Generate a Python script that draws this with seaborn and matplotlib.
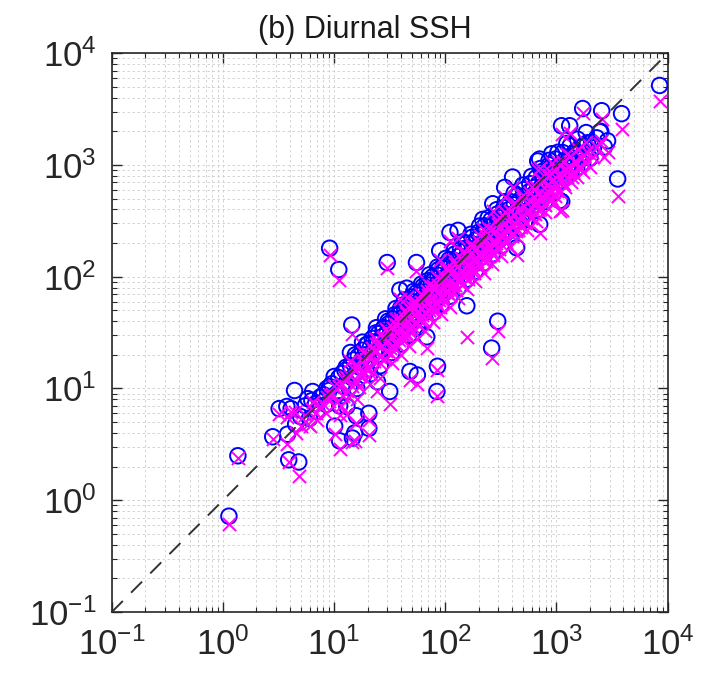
import matplotlib
matplotlib.use("Agg")
import matplotlib.pyplot as plt
import seaborn as sns
import pandas as pd
import numpy as np

# main band: observed value, circle estimate, cross estimate
band_x = [8.0, 8.5, 9.5, 10.5, 11.0, 12.0, 12.5, 13.0, 14.0, 14.5, 15.0, 16.0, 16.5, 17.0, 18.0,
          18.5, 19.0, 20.0, 20.5, 21.0, 22.0, 23.0, 24.0, 25.0, 26.0, 27.0, 28.0, 29.0, 30.0, 31.0,
          32.0, 33.0, 34.0, 35.0, 36.0, 37.0, 38.0, 39.0, 40.0, 41.0, 42.0, 43.0, 44.0, 45.0, 46.0,
          47.0, 48.0, 49.0, 50.0, 52.0, 53.0, 54.0, 56.0, 57.0, 58.0, 60.0, 61.0, 62.0, 64.0, 65.0,
          66.0, 68.0, 70.0, 71.0, 73.0, 75.0, 76.0, 78.0, 80.0, 82.0, 84.0, 86.0, 88.0, 90.0, 93.0,
          95.0, 97.0, 100.0, 103.0, 106.0, 110.0, 113.0, 116.0, 120.0, 123.0, 127.0, 131.0, 135.0,
          139.0, 143.0, 147.0, 152.0, 157.0, 162.0, 167.0, 172.0, 178.0, 184.0, 190.0, 196.0, 202.0,
          209.0, 216.0, 223.0, 230.0, 238.0, 246.0, 254.0, 262.0, 271.0, 280.0, 290.0, 300.0, 310.0,
          320.0, 331.0, 342.0, 354.0, 366.0, 378.0, 391.0, 404.0, 418.0, 432.0, 447.0, 462.0, 478.0,
          494.0, 511.0, 528.0, 546.0, 565.0, 584.0, 604.0, 625.0, 646.0, 668.0, 691.0, 715.0, 740.0,
          765.0, 791.0, 818.0, 846.0, 875.0, 905.0, 936.0, 968.0, 1000.0, 1040.0, 1080.0, 1120.0,
          1160.0, 1200.0, 1250.0, 1300.0, 1350.0, 1400.0, 1460.0, 1520.0, 1580.0, 1650.0, 1720.0,
          1800.0, 1900.0, 2000.0, 2150.0, 2300.0,
          9.0, 10.0, 11.5, 12.8, 13.6, 15.5, 16.8, 17.6, 19.4, 21.5, 22.6, 23.8, 25.6, 27.5, 28.6,
          30.5, 32.5, 34.5, 35.5, 37.5, 39.5, 40.5, 42.5, 44.5, 46.5, 48.5, 50.5, 51.5, 55.0, 57.5,
          59.0, 63.0, 64.5, 67.0, 69.0, 72.0, 74.0, 77.0, 79.0, 83.0, 87.0, 89.0, 92.0, 96.0, 99.0,
          104.0, 108.0, 111.0, 118.0, 122.0, 126.0, 133.0, 137.0, 141.0, 149.0, 155.0, 160.0, 169.0,
          175.0, 181.0, 193.0, 199.0, 206.0, 219.0, 226.0, 234.0, 250.0, 258.0, 266.0, 285.0, 295.0,
          305.0, 325.0, 336.0, 348.0, 372.0, 385.0, 398.0, 425.0, 440.0, 455.0, 486.0, 503.0, 520.0,
          555.0, 575.0, 594.0, 636.0, 657.0, 680.0, 728.0, 752.0, 778.0, 832.0, 860.0, 890.0, 952.0,
          984.0, 1020.0, 1100.0, 1140.0, 1180.0, 1275.0, 1325.0, 1375.0, 1490.0, 1550.0, 1615.0,
          1760.0, 1850.0, 2070.0, 2500.0,
          14.0, 16.0, 18.0, 21.0, 24.0, 26.0, 29.0, 33.0, 36.0, 40.0, 43.0, 47.0, 52.0, 56.0, 61.0,
          66.0, 72.0, 78.0, 85.0, 92.0, 101.0, 110.0, 120.0, 131.0, 143.0, 156.0, 170.0, 186.0,
          203.0, 222.0, 243.0, 265.0, 290.0, 317.0, 347.0, 380.0, 416.0, 455.0, 498.0, 545.0, 597.0,
          654.0, 716.0, 784.0, 858.0, 940.0, 1030.0, 1240.0,
          5.0, 5.5, 7.0, 7.5, 4.5, 6.8]
band_circle = [8.8, 7.2, 11.0, 9.0, 12.5, 10.5, 14.5, 11.5, 16.0, 12.5, 18.0, 14.0, 19.5, 15.5, 22.0,
               17.0, 20.0, 25.0, 18.0, 23.0, 28.0, 21.0, 26.0, 31.0, 23.0, 29.0, 35.0, 26.0, 32.0, 38.0,
               28.0, 35.0, 42.0, 31.0, 38.0, 45.0, 33.0, 41.0, 48.0, 36.0, 44.0, 52.0, 38.0, 47.0, 56.0,
               41.0, 50.0, 60.0, 44.0, 54.0, 64.0, 47.0, 58.0, 68.0, 50.0, 62.0, 73.0, 54.0, 66.0, 78.0,
               57.0, 70.0, 84.0, 61.0, 75.0, 90.0, 65.0, 80.0, 96.0, 70.0, 86.0, 103.0, 75.0, 92.0, 110.0,
               80.0, 98.0, 118.0, 86.0, 105.0, 128.0, 94.0, 114.0, 140.0, 102.0, 124.0, 152.0, 110.0,
               135.0, 166.0, 120.0, 147.0, 182.0, 131.0, 160.0, 198.0, 143.0, 175.0, 216.0, 156.0, 190.0,
               236.0, 170.0, 208.0, 258.0, 186.0, 226.0, 282.0, 202.0, 246.0, 308.0, 220.0, 270.0, 336.0,
               240.0, 295.0, 368.0, 262.0, 322.0, 402.0, 286.0, 352.0, 440.0, 312.0, 385.0, 480.0, 340.0,
               420.0, 525.0, 372.0, 460.0, 574.0, 406.0, 502.0, 628.0, 444.0, 548.0, 686.0, 485.0, 600.0,
               750.0, 530.0, 655.0, 820.0, 580.0, 715.0, 895.0, 634.0, 780.0, 980.0, 700.0, 860.0,
               1080.0, 770.0, 950.0, 1190.0, 850.0, 1050.0, 1310.0, 940.0, 1160.0, 1440.0, 1040.0,
               1280.0, 1580.0, 1150.0, 1420.0, 1750.0,
               9.6, 12.8, 8.6, 15.5, 10.2, 20.0, 12.6, 17.9, 24.5, 16.5, 26.0, 31.5, 20.4, 34.0, 22.0,
               40.0, 25.0, 30.0, 46.0, 29.0, 52.0, 33.0, 38.0, 57.0, 36.0, 44.0, 66.0, 40.0, 72.0, 44.0,
               52.0, 82.0, 48.0, 60.0, 92.0, 54.0, 66.0, 100.0, 60.0, 74.0, 116.0, 66.0, 82.0, 126.0, 72.0,
               94.0, 142.0, 82.0, 104.0, 160.0, 92.0, 118.0, 178.0, 102.0, 132.0, 200.0, 116.0, 150.0,
               226.0, 130.0, 172.0, 250.0, 148.0, 194.0, 286.0, 166.0, 220.0, 322.0, 190.0, 250.0, 365.0,
               214.0, 286.0, 415.0, 244.0, 326.0, 470.0, 278.0, 372.0, 530.0, 318.0, 425.0, 600.0, 362.0,
               486.0, 680.0, 414.0, 556.0, 770.0, 472.0, 636.0, 880.0, 540.0, 726.0, 1000.0, 616.0, 830.0,
               1130.0, 705.0, 956.0, 1290.0, 815.0, 1100.0, 1480.0, 950.0, 1280.0, 1700.0, 1110.0,
               1500.0, 1950.0, 1600.0, 2000.0,
               21.0, 10.0, 26.0, 13.5, 35.0, 16.0, 42.0, 21.0, 52.0, 25.0, 62.0, 30.0, 74.0, 35.0, 86.0,
               41.0, 104.0, 48.0, 122.0, 57.0, 146.0, 67.0, 172.0, 80.0, 205.0, 95.0, 240.0, 112.0,
               284.0, 133.0, 335.0, 160.0, 398.0, 190.0, 470.0, 228.0, 560.0, 272.0, 660.0, 325.0, 790.0,
               390.0, 930.0, 470.0, 1100.0, 560.0, 1300.0, 1560.0,
               5.6, 7.0, 6.2, 8.4, 4.8, 7.3]
band_cross = [7.2, 6.0, 9.0, 7.5, 10.5, 8.5, 12.0, 9.5, 13.0, 10.5, 15.0, 11.5, 16.0, 13.0, 18.0,
              14.0, 16.5, 20.5, 15.0, 19.0, 23.0, 17.5, 21.5, 25.5, 19.0, 24.0, 29.0, 21.5, 26.5, 31.0,
              23.0, 29.0, 35.0, 25.5, 31.5, 37.0, 27.0, 34.0, 40.0, 30.0, 36.5, 43.0, 31.5, 39.0, 46.0,
              34.0, 41.5, 50.0, 36.5, 45.0, 53.0, 39.0, 48.0, 56.0, 41.5, 51.0, 60.0, 45.0, 55.0, 64.0,
              47.0, 58.0, 69.0, 50.0, 62.0, 74.0, 54.0, 66.0, 79.0, 58.0, 71.0, 85.0, 62.0, 76.0, 91.0,
              66.0, 81.0, 97.0, 71.0, 87.0, 106.0, 78.0, 94.0, 116.0, 84.0, 103.0, 126.0, 91.0,
              112.0, 137.0, 99.0, 122.0, 150.0, 108.0, 132.0, 164.0, 118.0, 145.0, 179.0, 129.0, 157.0,
              195.0, 141.0, 172.0, 213.0, 154.0, 187.0, 233.0, 167.0, 203.0, 255.0, 182.0, 223.0, 278.0,
              198.0, 244.0, 304.0, 217.0, 266.0, 332.0, 236.0, 291.0, 364.0, 258.0, 318.0, 397.0, 281.0,
              347.0, 434.0, 307.0, 380.0, 474.0, 336.0, 415.0, 519.0, 367.0, 453.0, 567.0, 401.0, 496.0,
              620.0, 438.0, 541.0, 678.0, 479.0, 591.0, 740.0, 524.0, 645.0, 810.0, 579.0, 711.0,
              893.0, 636.0, 785.0, 983.0, 702.0, 868.0, 1083.0, 777.0, 959.0, 1190.0, 860.0,
              1058.0, 1306.0, 950.0, 1174.0, 1446.0,
              7.8, 10.6, 7.0, 12.8, 8.4, 16.2, 10.4, 14.0, 20.0, 13.5, 21.8, 25.0, 17.0, 28.5, 18.4,
              33.0, 20.5, 23.5, 38.0, 24.0, 42.0, 27.5, 30.0, 47.0, 29.5, 35.0, 54.0, 33.0, 59.0, 36.5,
              41.0, 67.0, 40.0, 47.0, 75.0, 45.0, 53.0, 82.0, 49.0, 60.0, 95.0, 54.0, 66.0, 104.0, 60.0,
              76.0, 116.0, 68.0, 84.0, 131.0, 76.0, 95.0, 146.0, 85.0, 106.0, 164.0, 96.0, 121.0,
              185.0, 108.0, 139.0, 205.0, 123.0, 157.0, 234.0, 138.0, 178.0, 264.0, 158.0, 202.0, 299.0,
              178.0, 231.0, 340.0, 203.0, 264.0, 385.0, 231.0, 301.0, 435.0, 264.0, 344.0, 492.0, 300.0,
              394.0, 558.0, 344.0, 450.0, 631.0, 392.0, 515.0, 722.0, 448.0, 588.0, 820.0, 511.0, 672.0,
              927.0, 585.0, 774.0, 1058.0, 676.0, 891.0, 1214.0, 788.0, 1037.0, 1394.0, 921.0,
              1215.0, 1600.0, 1300.0, 1640.0,
              17.5, 8.0, 21.0, 11.0, 28.0, 12.5, 34.0, 17.0, 42.0, 20.0, 50.0, 24.0, 60.0, 28.0, 70.0,
              33.0, 84.0, 39.0, 99.0, 46.0, 118.0, 54.0, 140.0, 65.0, 166.0, 77.0, 195.0, 91.0,
              230.0, 108.0, 272.0, 130.0, 322.0, 154.0, 381.0, 185.0, 454.0, 220.0, 535.0, 263.0, 640.0,
              316.0, 753.0, 381.0, 891.0, 454.0, 1053.0, 1264.0,
              4.6, 5.8, 5.2, 7.0, 4.0, 6.0]

# scattered points away from the band
out_x = [1.13, 1.36, 2.8, 3.8, 3.9, 4.8, 3.2, 3.75, 4.4, 4.1, 6.0, 5.8, 6.4, 6.3, 9.1, 8.6, 11.7,
         10.1, 11.2, 11.2, 13.0, 15.3, 14.6, 20.5, 20.5, 15.8, 31.6, 24.5, 9.1, 11.0, 30.0, 14.4,
         156.0, 296.0, 261.0, 85.0, 84.0, 68.0, 48.0, 56.0, 8470.0, 3850.0, 3550.0, 1720.0, 2550.0,
         1110.0, 1315.0, 2880.0, 2460.0, 1070.0, 2700.0, 403.0, 342.0, 678.0, 905.0, 267.0, 110.0,
         130.0, 55.0, 39.0, 45.0, 89.0, 217.0, 706.0, 706.0, 1115.0, 438.0]
out_circle = [0.72, 2.5, 3.7, 3.9, 2.3, 2.2, 6.6, 6.9, 9.6, 6.6, 5.4, 8.1, 9.4, 7.8, 10.4, 10.0, 13.6,
              4.6, 3.4, 7.0, 6.9, 4.0, 3.6, 6.0, 4.4, 5.7, 9.4, 11.5, 180.0, 116.0, 134.0, 37.0,
              55.0, 40.0, 23.0, 15.8, 9.4, 29.0, 14.2, 13.2, 5150.0, 2880.0, 750.0, 3200.0, 3060.0,
              2245.0, 2245.0, 1645.0, 1980.0, 480.0, 1450.0, 780.0, 630.0, 1086.0, 1260.0, 450.0, 249.0,
              260.0, 134.0, 76.0, 79.0, 171.0, 326.0, 1130.0, 294.0, 470.0, 182.0]
out_cross = [0.61, 2.4, 3.5, 3.2, 2.2, 1.65, 5.9, 5.6, 6.2, 6.2, 4.6, 4.8, 7.6, 6.6, 8.8, 8.4, 11.0,
             3.9, 2.9, 5.8, 5.9, 3.4, 3.3, 5.2, 3.8, 4.9, 7.3, 9.5, 158.0, 94.0, 120.0, 31.0,
             29.0, 33.0, 18.6, 14.5, 8.5, 23.0, 12.0, 11.0, 3700.0, 2110.0, 526.0, 2900.0, 2600.0,
             1900.0, 1950.0, 1300.0, 1550.0, 385.0, 1180.0, 640.0, 520.0, 900.0, 1040.0, 385.0, 210.0,
             220.0, 112.0, 63.0, 66.0, 140.0, 270.0, 940.0, 245.0, 394.0, 158.0]

df = pd.DataFrame({"x": band_x + out_x,
                   "circle": band_circle + out_circle,
                   "cross": band_cross + out_cross})

sns.set_style("ticks")
plt.rcParams["font.family"] = ["Liberation Sans", "DejaVu Sans"]

fig = plt.figure(figsize=(7.08, 6.74), dpi=100)
ax = fig.add_axes([0.158, 0.092, 0.785, 0.829])

ax.set_xscale("log")
ax.set_yscale("log")

sns.scatterplot(data=df, x="x", y="circle", ax=ax, marker="o", s=125,
                facecolors="none", edgecolor="blue", linewidth=1.4, zorder=3)
sns.scatterplot(data=df, x="x", y="cross", ax=ax, marker="x", s=90,
                color="magenta", linewidth=1.4, zorder=4)

lims = [0.1, 1e4]
ax.plot(lims, lims, color="#333333", lw=1.4, ls=(0, (8, 6)), zorder=5)

ax.set_xlim(lims)
ax.set_ylim(lims)
ax.set_xlabel("")
ax.set_ylabel("")

ax.grid(which="both", color="#cdcdcd", lw=0.6, ls=(0, (3, 3)), zorder=0)
ax.set_axisbelow(True)
ax.tick_params(which="both", direction="in", top=True, right=True, colors="#262626")
ax.tick_params(which="major", length=7, width=1.0, labelsize=25, pad=11)
ax.tick_params(which="minor", length=3.5, width=0.8)
for sp in ax.spines.values():
    sp.set_color("#262626")
    sp.set_linewidth(1.2)

ax.text(0.455, 1.027, "(b) Diurnal SSH", transform=ax.transAxes, ha="center",
        va="baseline", fontsize=22, color="#1a1a1a")

fig.savefig("out.png", dpi=100)
